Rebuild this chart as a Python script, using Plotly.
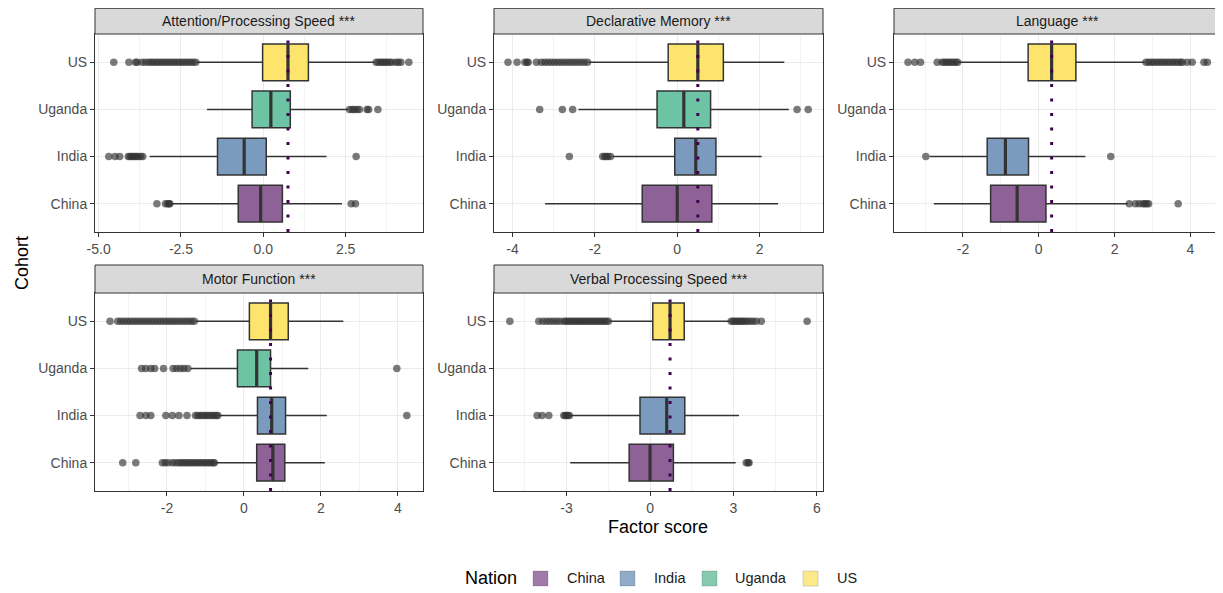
import plotly.graph_objects as go

# page offset of the plot div inside the browser page (default body margin)
OFF = 8
W, H = 1223 - OFF, 593 - OFF

nations = ["China", "India", "Uganda", "US"]
nation_pos = [1, 2, 3, 4]
box_fill = ["#8e6297", "#7a9bbd", "#6dc4a4", "#fde46c"]
legend_fill = ["#a07aa8", "#92abc8", "#86cbb0", "#fde98a"]

panel_titles = ["Attention/Processing Speed ***", "Declarative Memory ***",
                "Language ***", "Motor Function ***", "Verbal Processing Speed ***"]

# ---- Attention/Processing Speed (China, India, Uganda, US)
att_low = [-2.82, -3.45, -1.71, -2.02]
att_q1 = [-0.76, -1.39, -0.34, -0.02]
att_med = [-0.08, -0.58, 0.23, 0.75]
att_q3 = [0.58, 0.09, 0.82, 1.37]
att_high = [2.39, 1.92, 2.57, 3.38]
att_out_china = [-3.23, -2.97, -2.90, -2.86, -2.84, 2.67, 2.80]
att_out_india = [-4.69, -4.50, -4.36, -4.10, -4.05, -4.00, -3.95, -3.90, -3.85,
                 -3.80, -3.72, -3.66, 2.82]
att_out_uganda = [2.62, 2.70, 2.76, 2.85, 2.92, 3.15, 3.20, 3.48]
att_out_us = [-4.54, -4.08, -3.88, -3.83, -3.68, -3.58, -3.48, -3.40, -3.33, -3.25,
              -3.17, -3.09, -3.01, -2.93, -2.85, -2.77, -2.69, -2.61, -2.53, -2.45,
              -2.37, -2.29, -2.21, -2.13, -2.05, 3.43, 3.50, 3.57, 3.63, 3.70, 3.76,
              3.83, 3.90, 4.02, 4.10, 4.18, 4.42]

# ---- Declarative Memory
dec_low = [-3.21, -1.57, -2.40, -2.16]
dec_q1 = [-0.85, -0.06, -0.49, -0.22]
dec_med = [0.00, 0.45, 0.16, 0.50]
dec_q3 = [0.84, 0.94, 0.81, 1.12]
dec_high = [2.45, 2.05, 2.71, 2.60]
dec_out_china = []
dec_out_india = [-2.62, -1.81, -1.76, -1.72, -1.68, -1.62]
dec_out_uganda = [-3.34, -2.79, -2.54, 2.91, 3.18]
dec_out_us = [-4.11, -3.89, -3.70, -3.65, -3.62, -3.42, -3.30, -3.22, -3.14, -3.06,
              -2.98, -2.90, -2.82, -2.74, -2.66, -2.58, -2.50, -2.42, -2.34, -2.26,
              -2.18]

# ---- Language (no Uganda data)
lan_low = [-2.77, -2.88, None, -2.13]
lan_q1 = [-1.27, -1.36, None, -0.28]
lan_med = [-0.57, -0.88, None, 0.34]
lan_q3 = [0.19, -0.27, None, 0.98]
lan_high = [2.35, 1.23, None, 2.80]
lan_out_china = [2.39, 2.55, 2.65, 2.75, 2.80, 2.85, 2.90, 3.68]
lan_out_india = [-2.98, 1.90]
lan_out_uganda = []
lan_out_us = [-3.45, -3.27, -3.12, -2.68, -2.55, -2.49, -2.43, -2.37, -2.31, -2.25,
              -2.19, -2.14, 2.83, 2.90, 2.97, 3.04, 3.11, 3.18, 3.25, 3.32, 3.39,
              3.46, 3.53, 3.60, 3.67, 3.74, 3.79, 3.92, 4.05, 4.36, 4.45]

# ---- Motor Function
mot_low = [-0.75, -0.66, -1.39, -1.26]
mot_q1 = [0.33, 0.35, -0.17, 0.14]
mot_med = [0.75, 0.72, 0.33, 0.69]
mot_q3 = [1.06, 1.08, 0.69, 1.15]
mot_high = [2.10, 2.15, 1.67, 2.58]
mot_out_china = [-3.15, -2.81, -2.12, -2.05, -1.97, -1.86, -1.78, -1.70, -1.64,
                 -1.58, -1.52, -1.46, -1.40, -1.34, -1.28, -1.22, -1.16, -1.10,
                 -1.04, -0.98, -0.92, -0.86, -0.80, -0.77]
mot_out_india = [-2.70, -2.55, -2.42, -2.03, -1.86, -1.69, -1.48, -1.26, -1.20,
                 -1.14, -1.08, -1.02, -0.96, -0.90, -0.84, -0.78, -0.72, -0.68, 4.23]
mot_out_uganda = [-2.66, -2.55, -2.42, -2.32, -2.09, -1.84, -1.75, -1.65, -1.56,
                  -1.46, 3.97]
mot_out_us = [-3.48, -3.28, -3.20, -3.12, -3.04, -2.96, -2.88, -2.80, -2.72, -2.64,
              -2.56, -2.48, -2.40, -2.32, -2.24, -2.16, -2.08, -2.00, -1.92, -1.84,
              -1.76, -1.68, -1.60, -1.52, -1.44, -1.36, -1.29]

# ---- Verbal Processing Speed (no Uganda data)
ver_low = [-2.87, -2.87, None, -1.46]
ver_q1 = [-0.75, -0.36, None, 0.10]
ver_med = [0.00, 0.60, None, 0.72]
ver_q3 = [0.84, 1.25, None, 1.23]
ver_high = [3.08, 3.20, None, 2.87]
ver_out_china = [3.46, 3.53, 3.56]
ver_out_india = [-4.06, -3.88, -3.64, -3.10, -3.05, -3.00, -2.95, -2.90]
ver_out_uganda = []
ver_out_us = [-5.04, -4.00, -3.85, -3.72, -3.60, -3.48, -3.36, -3.24, -3.10, -3.02,
              -2.94, -2.86, -2.78, -2.70, -2.62, -2.54, -2.46, -2.38, -2.30, -2.22,
              -2.14, -2.06, -1.98, -1.90, -1.82, -1.74, -1.66, -1.58, -1.50, 2.92,
              2.99, 3.06, 3.13, 3.20, 3.27, 3.34, 3.42, 3.50, 3.60, 3.70, 3.82, 4.00,
              5.65]

# x-axis scales per panel
x_ranges = [[-5.11, 4.85], [-4.45, 3.54], [-3.82, 4.81], [-3.87, 4.65], [-5.61, 6.22]]
x_ticks = [[-5, -2.5, 0, 2.5], [-4, -2, 0, 2], [-2, 0, 2, 4], [-2, 0, 2, 4], [-3, 0, 3, 6]]
x_ticktext = [["-5.0", "-2.5", "0.0", "2.5"], ["-4", "-2", "0", "2"],
              ["-2", "0", "2", "4"], ["-2", "0", "2", "4"], ["-3", "0", "3", "6"]]
x_minor = [[-3.75, -1.25, 1.25, 3.75], [-3, -1, 1, 3], [-3, -1, 1, 3],
           [-3, -1, 1, 3], [-4.5, -1.5, 1.5, 4.5]]

panels = [
    (att_low, att_q1, att_med, att_q3, att_high,
     [att_out_china, att_out_india, att_out_uganda, att_out_us]),
    (dec_low, dec_q1, dec_med, dec_q3, dec_high,
     [dec_out_china, dec_out_india, dec_out_uganda, dec_out_us]),
    (lan_low, lan_q1, lan_med, lan_q3, lan_high,
     [lan_out_china, lan_out_india, lan_out_uganda, lan_out_us]),
    (mot_low, mot_q1, mot_med, mot_q3, mot_high,
     [mot_out_china, mot_out_india, mot_out_uganda, mot_out_us]),
    (ver_low, ver_q1, ver_med, ver_q3, ver_high,
     [ver_out_china, ver_out_india, ver_out_uganda, ver_out_us]),
]

# layout geometry (screen pixels of the target picture)
col_px = [(95, 423), (494, 823), (894, 1221)]
row_px = [(34, 232), (293, 491)]
strip_px = [(7, 34), (265, 293)]
cells = [(0, 0), (0, 1), (0, 2), (1, 0), (1, 1)]
BOX_W = 0.78


def px(p):
    return (p - OFF) / W


def py(p):
    return 1 - (p - OFF) / H


FONT = "Liberation Sans, Arial, sans-serif"

fig = go.Figure()
shapes = []
annotations = []
layout_axes = {}

for i, (low, q1, med, q3, high, outs) in enumerate(panels):
    r, c = cells[i]
    sfx = "" if i == 0 else str(i + 1)
    xref, yref = "x" + sfx, "y" + sfx
    # boxes
    for k, nat in enumerate(nations):
        if q1[k] is None:
            continue
        fig.add_trace(go.Box(
            y=[nation_pos[k]], q1=[q1[k]], median=[med[k]], q3=[q3[k]],
            lowerfence=[low[k]], upperfence=[high[k]], orientation="h",
            width=BOX_W, fillcolor=box_fill[k], boxpoints=False, whiskerwidth=0,
            line=dict(color="#333333", width=1.5), showlegend=False,
            hoverinfo="skip", xaxis=xref, yaxis=yref, name=nat))
    # thicker median segments
    mx, my = [], []
    for k in range(4):
        if med[k] is None:
            continue
        mx += [med[k], med[k], None]
        my += [nation_pos[k] - BOX_W / 2, nation_pos[k] + BOX_W / 2, None]
    fig.add_trace(go.Scatter(x=mx, y=my, mode="lines",
                             line=dict(color="#333333", width=3.2),
                             showlegend=False, hoverinfo="skip",
                             xaxis=xref, yaxis=yref))
    # outliers
    ox, oy = [], []
    for k in range(4):
        ox += outs[k]
        oy += [nation_pos[k]] * len(outs[k])
    fig.add_trace(go.Scatter(x=ox, y=oy, mode="markers",
                             marker=dict(size=7.5, color="rgba(51,51,51,0.65)",
                                         line=dict(width=0)),
                             showlegend=False, hoverinfo="skip",
                             xaxis=xref, yaxis=yref))
    # reference line at US median
    shapes.append(dict(type="line", xref=xref, yref=yref + " domain",
                       x0=med[3], x1=med[3], y0=0, y1=1, layer="above",
                       line=dict(color="#440154", width=3, dash="3px,11.5px")))

    x0p, x1p = col_px[c]
    y0p, y1p = row_px[r]
    layout_axes["xaxis" + sfx] = dict(
        domain=[px(x0p), px(x1p)], range=x_ranges[i], anchor=yref,
        automargin=False,
        tickmode="array", tickvals=x_ticks[i], ticktext=x_ticktext[i],
        showgrid=True, gridcolor="#ebebeb", gridwidth=1.1,
        minor=dict(tickmode="array", tickvals=x_minor[i], showgrid=True,
                   gridcolor="#f3f3f3", gridwidth=0.6, ticks=""),
        zeroline=False, showline=True, mirror=True, linecolor="#333333",
        linewidth=1, ticks="outside", ticklen=4, tickcolor="#333333", tickwidth=1,
        tickfont=dict(size=14, color="#4d4d4d", family=FONT), fixedrange=True)
    layout_axes["yaxis" + sfx] = dict(
        domain=[py(y1p), py(y0p)], range=[0.4, 4.6], anchor=xref,
        automargin=False,
        tickmode="array", tickvals=nation_pos, ticktext=nations,
        showgrid=True, gridcolor="#ebebeb", gridwidth=1.1, zeroline=False,
        showline=True, mirror=True, linecolor="#333333", linewidth=1,
        ticks="outside", ticklen=4, tickcolor="#333333", tickwidth=1,
        tickfont=dict(size=14, color="#4d4d4d", family=FONT), fixedrange=True)

    # strip
    s0, s1 = strip_px[r]
    shapes.append(dict(type="rect", xref="paper", yref="paper",
                       x0=px(x0p), x1=px(x1p), y0=py(s1), y1=min(py(s0), 0.9995),
                       fillcolor="#d9d9d9", line=dict(color="#333333", width=1),
                       layer="above"))
    annotations.append(dict(text=panel_titles[i], xref="paper", yref="paper",
                            x=px((x0p + x1p) / 2), y=py((s0 + s1) / 2),
                            showarrow=False, xanchor="center", yanchor="middle",
                            font=dict(size=14, color="#1a1a1a", family=FONT)))

# axis titles
annotations.append(dict(text="Factor score", xref="paper", yref="paper",
                        x=px(658), y=py(527), showarrow=False,
                        xanchor="center", yanchor="middle",
                        font=dict(size=18, color="#000000", family=FONT)))
annotations.append(dict(text="Cohort", xref="paper", yref="paper",
                        x=px(22), y=py(263), showarrow=False, textangle=-90,
                        xanchor="center", yanchor="middle",
                        font=dict(size=18, color="#000000", family=FONT)))

# legend (manual)
annotations.append(dict(text="Nation", xref="paper", yref="paper",
                        x=px(463), y=py(578), showarrow=False,
                        xanchor="left", yanchor="middle",
                        font=dict(size=18, color="#000000", family=FONT)))
leg_key_x = [533, 620, 702, 803]
leg_text_x = [565, 652, 733, 835]
for k, nat in enumerate(nations):
    shapes.append(dict(type="rect", xref="paper", yref="paper",
                       x0=px(leg_key_x[k]), x1=px(leg_key_x[k] + 15),
                       y0=py(586), y1=py(571),
                       fillcolor=legend_fill[k],
                       line=dict(color="rgba(60,60,60,0.2)", width=1)))
    annotations.append(dict(text=nat, xref="paper", yref="paper",
                            x=px(leg_text_x[k]), y=py(578), showarrow=False,
                            xanchor="left", yanchor="middle",
                            font=dict(size=14.5, color="#1a1a1a", family=FONT)))

fig.update_layout(
    width=W, height=H, margin=dict(l=0, r=0, t=0, b=0, autoexpand=False),
    paper_bgcolor="white", plot_bgcolor="white", boxmode="overlay",
    showlegend=False, shapes=shapes, annotations=annotations,
    font=dict(family=FONT), **layout_axes)

fig.write_html("out.html")
